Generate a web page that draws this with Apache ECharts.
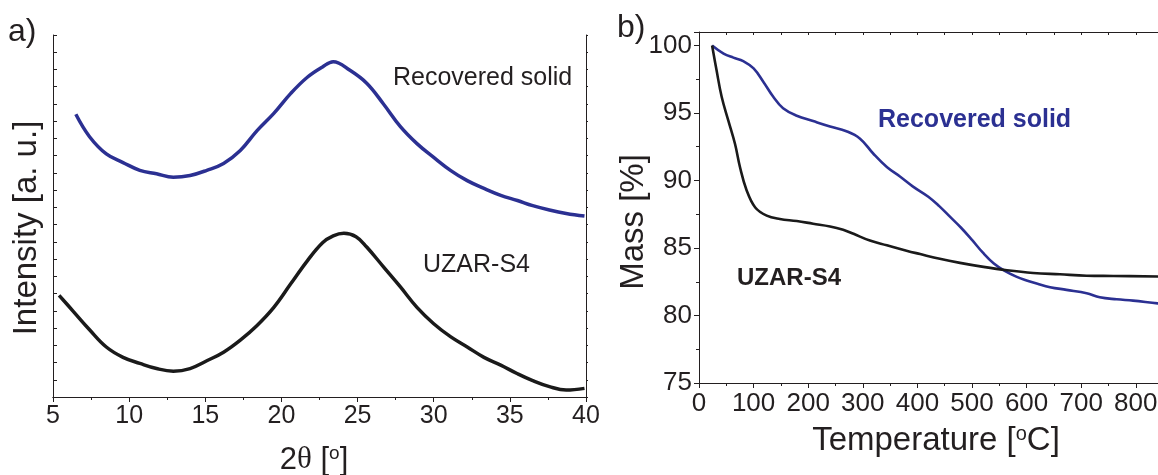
<!DOCTYPE html>
<html>
<head>
<meta charset="utf-8">
<script src="https://cdn.jsdelivr.net/npm/echarts@6/dist/echarts.min.js"></script>
<style>
html,body{margin:0;padding:0;background:#fff;}
#c{width:1158px;height:475px;}
</style>
</head>
<body>
<div id="c"></div>
<script>
// ---- Panel a) XRD (arbitrary intensity units) ----
const recoveredTheta = [6.5,7.4,8.5,9.6,10.7,11.8,12.9,14.0,15.1,16.2,17.3,18.4,19.5,20.6,21.7,22.7,23.4,24.5,25.6,26.7,27.8,28.9,30.0,31.1,32.2,33.3,34.4,35.5,36.5,37.6,38.7,39.9];
const recoveredInt   = [16.4,15.1,14.1,13.6,13.15,12.95,12.75,12.85,13.15,13.55,14.3,15.45,16.45,17.6,18.55,19.15,19.45,18.95,18.2,17.0,15.7,14.7,13.9,13.15,12.55,12.1,11.7,11.4,11.1,10.85,10.65,10.5];
const uzarTheta = [5.4,6.3,7.4,8.5,9.6,10.7,11.8,12.9,14.0,15.1,16.2,17.3,18.4,19.5,20.6,21.7,22.7,23.4,24.1,24.9,25.6,26.7,27.8,28.9,30.0,31.1,32.2,33.3,34.4,35.5,36.5,37.6,38.7,39.9];
const uzarInt   = [5.9,5.0,3.9,2.9,2.3,1.95,1.65,1.5,1.65,2.1,2.6,3.3,4.15,5.2,6.55,7.9,8.95,9.35,9.5,9.3,8.7,7.55,6.4,5.2,4.25,3.5,2.9,2.3,1.85,1.35,0.95,0.6,0.4,0.5];

// ---- Panel b) TGA ----
const recTemp = [24,45,63,81,100,118,136,154,179,209,240,270,295,319,344,368,392,420,440,460,480,500,520,540,560,580,600,620,643,673,710,734,765,795,840,850];
const recMass = [100,99.4,99.1,98.85,98.3,97.3,96.2,95.35,94.8,94.4,94.0,93.65,93.1,92.0,91.0,90.3,89.55,88.8,88.1,87.3,86.5,85.6,84.65,83.85,83.3,82.9,82.6,82.35,82.1,81.9,81.65,81.35,81.2,81.1,80.9,80.88];
const uzTemp = [24,32,41.5,54,66,75,87,103,124,148,179,209,240,264,283,313,344,380,405,441,478,521,564,612,661,710,759,850];
const uzMass = [100,98.2,96.2,94.4,92.7,91.0,89.3,88.0,87.4,87.15,87.0,86.8,86.6,86.35,86.05,85.55,85.2,84.8,84.55,84.2,83.9,83.6,83.35,83.15,83.05,82.95,82.93,82.89];

const xTicksA = [5,10,15,20,25,30,35,40];
const yTicksB = [75,80,85,90,95,100];

const BLUE = '#2b3092';
const BLACK = '#1a1a1a';
const TXT = '#231f20';
const FONT = 'Liberation Sans';

const zip = (a, b) => a.map((v, i) => [v, b[i]]);

const chart = echarts.init(document.getElementById('c'), null, {renderer: 'canvas'});

const axLine = {show: true, lineStyle: {color: TXT, width: 1}};

const option = {
  animation: false,
  backgroundColor: '#fff',
  textStyle: {fontFamily: FONT, color: TXT},
  grid: [
    {left: 53, top: 35, width: 533, height: 362, containLabel: false, outerBoundsMode: 'none'},
    {left: 699, top: 32, width: 491.4, height: 351, containLabel: false, outerBoundsMode: 'none'}
  ],
  xAxis: [
    {
      gridIndex: 0, type: 'value', min: 5, max: 40, interval: 5, position: 'bottom',
      axisLine: axLine,
      axisTick: {show: true, inside: false, length: 5, lineStyle: {color: TXT}},
      minorTick: {show: true, splitNumber: 2, length: 3, lineStyle: {color: TXT}},
      splitLine: {show: false},
      axisLabel: {fontSize: 25, color: TXT, fontFamily: FONT, margin: 7,
        formatter: v => xTicksA.includes(v) ? String(v) : ''}
    },
    {
      gridIndex: 0, type: 'value', min: 5, max: 40, interval: 5, position: 'top',
      axisLine: axLine,
      axisTick: {show: true, inside: true, length: 3, lineStyle: {color: TXT}},
      minorTick: {show: true, splitNumber: 2, length: 3, lineStyle: {color: TXT}},
      splitLine: {show: false}, axisLabel: {show: false}
    },
    {
      gridIndex: 1, type: 'value', min: 0, max: 900, interval: 100, position: 'bottom',
      axisLine: axLine,
      axisTick: {show: true, inside: false, length: 5, lineStyle: {color: TXT}},
      minorTick: {show: true, splitNumber: 2, length: 3, lineStyle: {color: TXT}},
      splitLine: {show: false},
      axisLabel: {fontSize: 26, color: TXT, fontFamily: FONT, margin: 8}
    },
    {
      gridIndex: 1, type: 'value', min: 0, max: 900, interval: 100, position: 'top',
      axisLine: axLine,
      axisTick: {show: true, inside: true, length: 3, lineStyle: {color: TXT}},
      minorTick: {show: true, splitNumber: 2, length: 3, lineStyle: {color: TXT}},
      splitLine: {show: false}, axisLabel: {show: false}
    }
  ],
  yAxis: [
    {
      gridIndex: 0, type: 'value', min: 0, max: 21, interval: 1, position: 'left',
      axisLine: axLine,
      axisTick: {show: true, inside: true, length: 4, lineStyle: {color: TXT}},
      splitLine: {show: false}, axisLabel: {show: false}
    },
    {
      gridIndex: 0, type: 'value', min: 0, max: 21, interval: 1, position: 'right',
      axisLine: axLine,
      axisTick: {show: true, inside: false, length: 2, lineStyle: {color: TXT}},
      splitLine: {show: false}, axisLabel: {show: false}
    },
    {
      gridIndex: 1, type: 'value', min: 75, max: 101, interval: 5, position: 'left',
      axisLine: axLine,
      axisTick: {show: true, inside: false, length: 5, lineStyle: {color: TXT}},
      minorTick: {show: true, splitNumber: 2, length: 3, lineStyle: {color: TXT}},
      splitLine: {show: false},
      axisLabel: {fontSize: 26, color: TXT, fontFamily: FONT, margin: 7,
        formatter: v => yTicksB.includes(v) ? String(v) : ''}
    }
  ],
  series: [
    {type: 'line', xAxisIndex: 0, yAxisIndex: 0, data: zip(recoveredTheta, recoveredInt),
     smooth: 0.4, showSymbol: false, lineStyle: {color: BLUE, width: 3.5}},
    {type: 'line', xAxisIndex: 0, yAxisIndex: 0, data: zip(uzarTheta, uzarInt),
     smooth: 0.4, showSymbol: false, lineStyle: {color: BLACK, width: 3.5}},
    {type: 'line', xAxisIndex: 2, yAxisIndex: 2, data: zip(recTemp, recMass),
     smooth: 0.4, showSymbol: false, lineStyle: {color: BLUE, width: 2.6}},
    {type: 'line', xAxisIndex: 2, yAxisIndex: 2, data: zip(uzTemp, uzMass),
     smooth: 0.4, showSymbol: false, lineStyle: {color: BLACK, width: 2.6}}
  ],
  graphic: [
    {type: 'text', left: 8, top: 16, style: {text: 'a)', fontSize: 32, fontFamily: FONT, fill: TXT}},
    {type: 'text', left: 617, top: 12, style: {text: 'b)', fontSize: 32, fontFamily: FONT, fill: TXT}},
    {type: 'text', left: 393, top: 66, style: {text: 'Recovered solid', fontSize: 25, fontFamily: FONT, fill: TXT}},
    {type: 'text', left: 423, top: 253, style: {text: 'UZAR-S4', fontSize: 25, fontFamily: FONT, fill: TXT}},
    {type: 'text', left: 878, top: 108, style: {text: 'Recovered solid', fontSize: 25, fontWeight: 'bold', fontFamily: FONT, fill: BLUE}},
    {type: 'text', left: 737, top: 266, style: {text: 'UZAR-S4', fontSize: 24, fontWeight: 'bold', fontFamily: FONT, fill: TXT}},
    // axis titles
    {type: 'text', x: 27, y: 228, rotation: Math.PI / 2,
     style: {text: 'Intensity [a. u.]', fontSize: 33, fontFamily: FONT, fill: TXT, align: 'center', verticalAlign: 'middle'}},
    {type: 'text', x: 634, y: 222, rotation: Math.PI / 2,
     style: {text: 'Mass [%]', fontSize: 33, fontFamily: FONT, fill: TXT, align: 'center', verticalAlign: 'middle'}},
    {type: 'text', x: 314, y: 460,
     style: {text: '2{t|θ} [{s|o}]', fontSize: 31, fontFamily: FONT, fill: TXT, align: 'center', verticalAlign: 'middle',
       rich: {t: {fontSize: 31, fontFamily: 'Liberation Serif', fill: TXT},
              s: {fontSize: 19, fontFamily: FONT, fill: TXT, verticalAlign: 'top'}}}},
    {type: 'text', x: 936, y: 441,
     style: {text: 'Temperature [{s|o}C]', fontSize: 33, fontFamily: FONT, fill: TXT, align: 'center', verticalAlign: 'middle',
       rich: {s: {fontSize: 20, fontFamily: FONT, fill: TXT, verticalAlign: 'top'}}}}
  ]
};
chart.setOption(option);
</script>
</body>
</html>
